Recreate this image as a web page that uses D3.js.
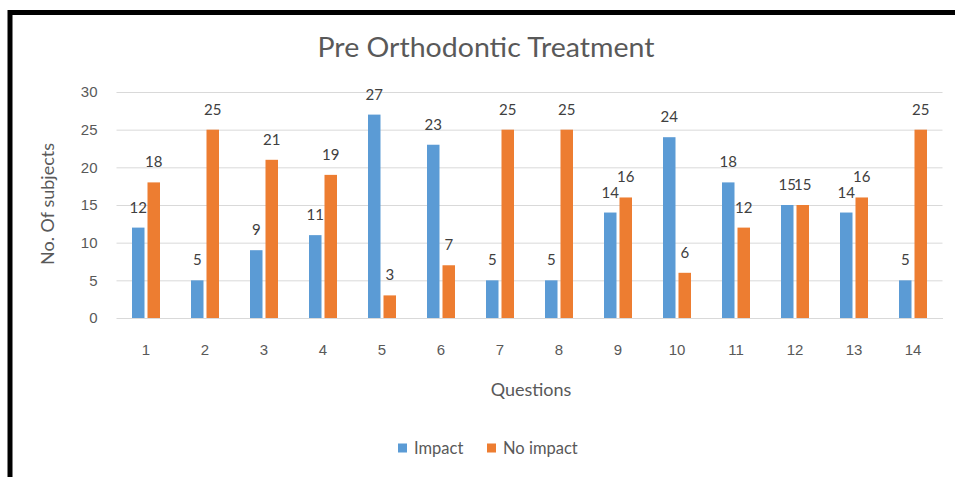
<!DOCTYPE html>
<html><head><meta charset="utf-8">
<script src="https://cdn.jsdelivr.net/npm/d3@7"></script>
<style>body{margin:0;background:#fff;}svg{display:block;font-family:Lato,"Open Sans",sans-serif;}</style>
</head><body>
<svg id="c" width="955" height="477"></svg>
<script>
const categories = ["1","2","3","4","5","6","7","8","9","10","11","12","13","14"];
const impact = [12,5,9,11,27,23,5,5,14,24,18,15,14,5];
const noImpact = [18,25,21,19,3,7,25,25,16,6,12,15,16,25];
const seriesNames = ["Impact","No impact"];
const yTicks = [0,5,10,15,20,25,30];
const colors = ["#5B9BD5","#ED7D31"];

(function(){
const svg = d3.select("#c");
svg.append("rect").attr("x",10).attr("y",12.5).attr("width",960).attr("height",480)
  .attr("fill","none").attr("stroke","#000").attr("stroke-width",5);

const pLeft=116.5, pRight=942.5, pTop=92, pBottom=318;
const x = d3.scaleBand().domain(categories).range([pLeft,pRight]).paddingInner(0).paddingOuter(0);
const y = d3.scaleLinear().domain([0,30]).range([pBottom,pTop]);
const bw = 12.5, gap = 3;

svg.append("text").attr("x",486).attr("y",57).attr("text-anchor","middle")
  .attr("font-size",26).attr("fill","#595959").attr("textLength",337)
  .attr("lengthAdjust","spacingAndGlyphs").text("Pre Orthodontic Treatment");

const yAxis = svg.append("g").attr("transform",`translate(${pLeft},0)`)
  .call(d3.axisLeft(y).tickValues(yTicks).tickSize(-(pRight-pLeft)).tickPadding(19));
yAxis.select(".domain").remove();
yAxis.selectAll("line").attr("stroke","#d9d9d9").attr("stroke-width",1);
yAxis.selectAll("text").attr("fill","#595959").attr("font-size",15);

const xAxis = svg.append("g").attr("transform",`translate(0,${pBottom})`)
  .call(d3.axisBottom(x).tickSize(0).tickPadding(26));
xAxis.select(".domain").attr("stroke","#d9d9d9");
xAxis.selectAll("text").attr("fill","#595959").attr("font-size",15);

const series = [impact, noImpact];
series.forEach((vals,si)=>{
  const g = svg.append("g");
  const xo = c => x(c) + x.bandwidth()/2 + (si===0 ? -(bw+gap/2) : gap/2);
  g.selectAll("rect").data(vals).join("rect")
    .attr("x",(d,i)=>xo(categories[i]))
    .attr("y",d=>y(d)).attr("width",bw).attr("height",d=>pBottom-y(d))
    .attr("fill",colors[si]);
  g.selectAll("text").data(vals).join("text")
    .attr("x",(d,i)=>xo(categories[i])+bw/2)
    .attr("y",d=>y(d)-15).attr("text-anchor","middle")
    .attr("font-size",15).attr("fill","#404040").text(d=>d);
});

svg.append("text").attr("transform","translate(54,204) rotate(-90)").attr("text-anchor","middle")
  .attr("font-size",18).attr("fill","#595959").text("No. Of subjects");
svg.append("text").attr("x",531).attr("y",396).attr("text-anchor","middle")
  .attr("font-size",18).attr("fill","#595959").text("Questions");

const legX = [398, 487];
seriesNames.forEach((n,i)=>{
  svg.append("rect").attr("x",legX[i]).attr("y",443.5).attr("width",9).attr("height",9).attr("fill",colors[i]);
  svg.append("text").attr("x",legX[i]+16).attr("y",454).attr("font-size",16.5).attr("fill","#595959").text(n);
});
})();
</script>
</body></html>
